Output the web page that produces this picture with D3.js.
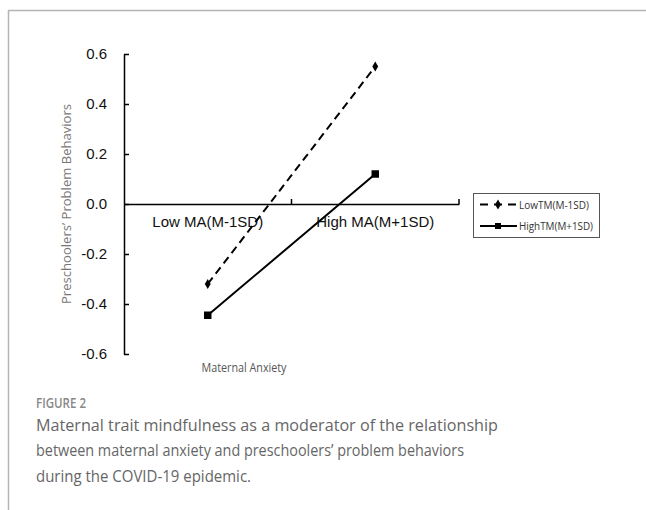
<!DOCTYPE html>
<html>
<head>
<meta charset="utf-8">
<script src="https://cdn.jsdelivr.net/npm/d3@7"></script>
<style>
	body { margin: 0; background: #fff; }
	svg { display: block; }
	.tick text { font-family: "Liberation Sans", Arial, sans-serif; font-size: 15px; fill: #111; }
</style>
</head>
<body>
<svg id="chart" width="646" height="510"></svg>
<script>
// values
const categories = ["Low MA(M-1SD)", "High MA(M+1SD)"];
const lowTM = [-0.32, 0.55];
const highTM = [-0.445, 0.12];
const yTicks = [-0.6, -0.4, -0.2, 0.0, 0.2, 0.4, 0.6];
const seriesNames = ["LowTM(M-1SD)", "HighTM(M+1SD)"];
const captionLabel = "FIGURE 2";
const captionLines = [
	"Maternal trait mindfulness as a moderator of the relationship",
	"between maternal anxiety and preschoolers\u2019 problem behaviors",
	"during the COVID-19 epidemic."
];

var svg = d3.select("#chart");

// page frame (top and left rules)
svg.append("line")
	.attr("x1", 8).attr("y1", 10.5).attr("x2", 646).attr("y2", 10.5)
	.attr("stroke", "#b4b4b4").attr("stroke-width", 1.5);
svg.append("line")
	.attr("x1", 8.5).attr("y1", 10).attr("x2", 8.5).attr("y2", 510)
	.attr("stroke", "#b4b4b4").attr("stroke-width", 1.5);

var x = d3.scaleBand().domain(categories).range([124, 459]);
var y = d3.scaleLinear().domain([-0.6, 0.6]).range([354, 54]);
function cx(c) { return x(c) + x.bandwidth()/2; }

// Excel style labels: plain hyphen, not unicode minus
var fmt = d3.format(".1f");
function tickLabel(d) { return fmt(d).replace("\u2212", "-"); }

// y axis, ticks pointing inward
var yAxis = svg.append("g")
	.attr("transform", "translate(124,0)")
	.call(d3.axisLeft(y)
		.tickValues(yTicks)
		.tickFormat(tickLabel)
		.tickSizeInner(-5)
		.tickSizeOuter(0)
		.tickPadding(17));
yAxis.selectAll("path, line").attr("stroke", "#000").attr("stroke-width", 1.5);

// x axis sits on y = 0
var xAxis = svg.append("g")
	.attr("transform", "translate(0," + y(0) + ")")
	.call(d3.axisBottom(x)
		.tickSize(0)
		.tickPadding(12));
xAxis.select(".domain").attr("stroke", "#000").attr("stroke-width", 1.5);
xAxis.selectAll(".tick line").remove();
// category boundary ticks
xAxis.selectAll(".bound")
	.data(categories)
	.enter()
	.append("line").classed("bound", true)
		.attr("x1", function(d){ return x(d) + x.bandwidth(); })
		.attr("x2", function(d){ return x(d) + x.bandwidth(); })
		.attr("y1", 0).attr("y2", -5)
		.attr("stroke", "#000").attr("stroke-width", 1.5);

var line = d3.line()
	.x(function(d, i){ return cx(categories[i]); })
	.y(function(d){ return y(d); });

// lines
svg.append("path").datum(lowTM)
	.attr("d", line)
	.attr("fill", "none").attr("stroke", "#000").attr("stroke-width", 2)
	.attr("stroke-dasharray", "8,5");
svg.append("path").datum(highTM)
	.attr("d", line)
	.attr("fill", "none").attr("stroke", "#000").attr("stroke-width", 2);

// markers
var diamond = d3.symbol().type(d3.symbolDiamond).size(30);
var square = d3.symbol().type(d3.symbolSquare).size(56);
svg.selectAll(".lowpt")
	.data(lowTM)
	.enter()
	.append("path").classed("lowpt", true)
		.attr("d", diamond)
		.attr("transform", function(d, i){ return "translate(" + cx(categories[i]) + "," + y(d) + ")"; })
		.attr("fill", "#000");
svg.selectAll(".highpt")
	.data(highTM)
	.enter()
	.append("path").classed("highpt", true)
		.attr("d", square)
		.attr("transform", function(d, i){ return "translate(" + cx(categories[i]) + "," + y(d) + ")"; })
		.attr("fill", "#000");

// axis titles
svg.append("text")
	.attr("transform", "translate(70.5," + y(0) + ") rotate(-90)")
	.attr("text-anchor", "middle")
	.attr("font-family", "'Open Sans', sans-serif")
	.attr("font-size", 13)
	.attr("fill", "#777")
	.attr("textLength", 200)
	.attr("lengthAdjust", "spacingAndGlyphs")
	.text("Preschoolers\u2019 Problem Behaviors");
svg.append("text")
	.attr("x", 244).attr("y", 371.5)
	.attr("text-anchor", "middle")
	.attr("font-family", "'Open Sans', sans-serif")
	.attr("font-size", 12)
	.attr("fill", "#555")
	.attr("textLength", 85)
	.attr("lengthAdjust", "spacingAndGlyphs")
	.text("Maternal Anxiety");

// legend
var legend = svg.append("g").attr("transform", "translate(473,193)");
legend.append("rect")
	.attr("x", 0.5).attr("y", 0.5).attr("width", 126).attr("height", 44)
	.attr("fill", "#fff").attr("stroke", "#555").attr("stroke-width", 1);
var rows = legend.selectAll(".row")
	.data(seriesNames)
	.enter()
	.append("g").classed("row", true)
		.attr("transform", function(d, i){ return "translate(0," + (11.5 + i*21.5) + ")"; });
rows.append("line")
	.attr("x1", 7).attr("x2", 44).attr("y1", 0).attr("y2", 0)
	.attr("stroke", "#000").attr("stroke-width", 2)
	.attr("stroke-dasharray", function(d, i){ return i == 0 ? "8,6" : null; });
rows.append("path")
	.attr("d", function(d, i){ return i == 0 ? diamond() : d3.symbol().type(d3.symbolSquare).size(36)(); })
	.attr("transform", "translate(25,0)")
	.attr("fill", "#000");
rows.append("text")
	.attr("x", 46).attr("y", 4)
	.attr("font-family", "'Open Sans', sans-serif")
	.attr("font-size", 10.5)
	.attr("fill", "#333")
	.attr("textLength", function(d, i){ return i == 0 ? 70 : 74; })
	.attr("lengthAdjust", "spacingAndGlyphs")
	.text(function(d){ return d; });

// caption
svg.append("text")
	.attr("x", 36).attr("y", 408)
	.attr("font-family", "'Open Sans', sans-serif")
	.attr("font-weight", 600)
	.attr("font-size", 13.5)
	.attr("fill", "#888")
	.attr("textLength", 50)
	.attr("lengthAdjust", "spacingAndGlyphs")
	.text(captionLabel);
var capWidths = [462, 428, 215];
svg.selectAll(".cap")
	.data(captionLines)
	.enter()
	.append("text").classed("cap", true)
		.attr("x", 36)
		.attr("y", function(d, i){ return 430.5 + i*25.5; })
		.attr("font-family", "'Open Sans', sans-serif")
		.attr("font-size", 16.5)
		.attr("fill", "#666")
		.attr("textLength", function(d, i){ return capWidths[i]; })
		.attr("lengthAdjust", "spacingAndGlyphs")
		.text(function(d){ return d; });
</script>
</body>
</html>
